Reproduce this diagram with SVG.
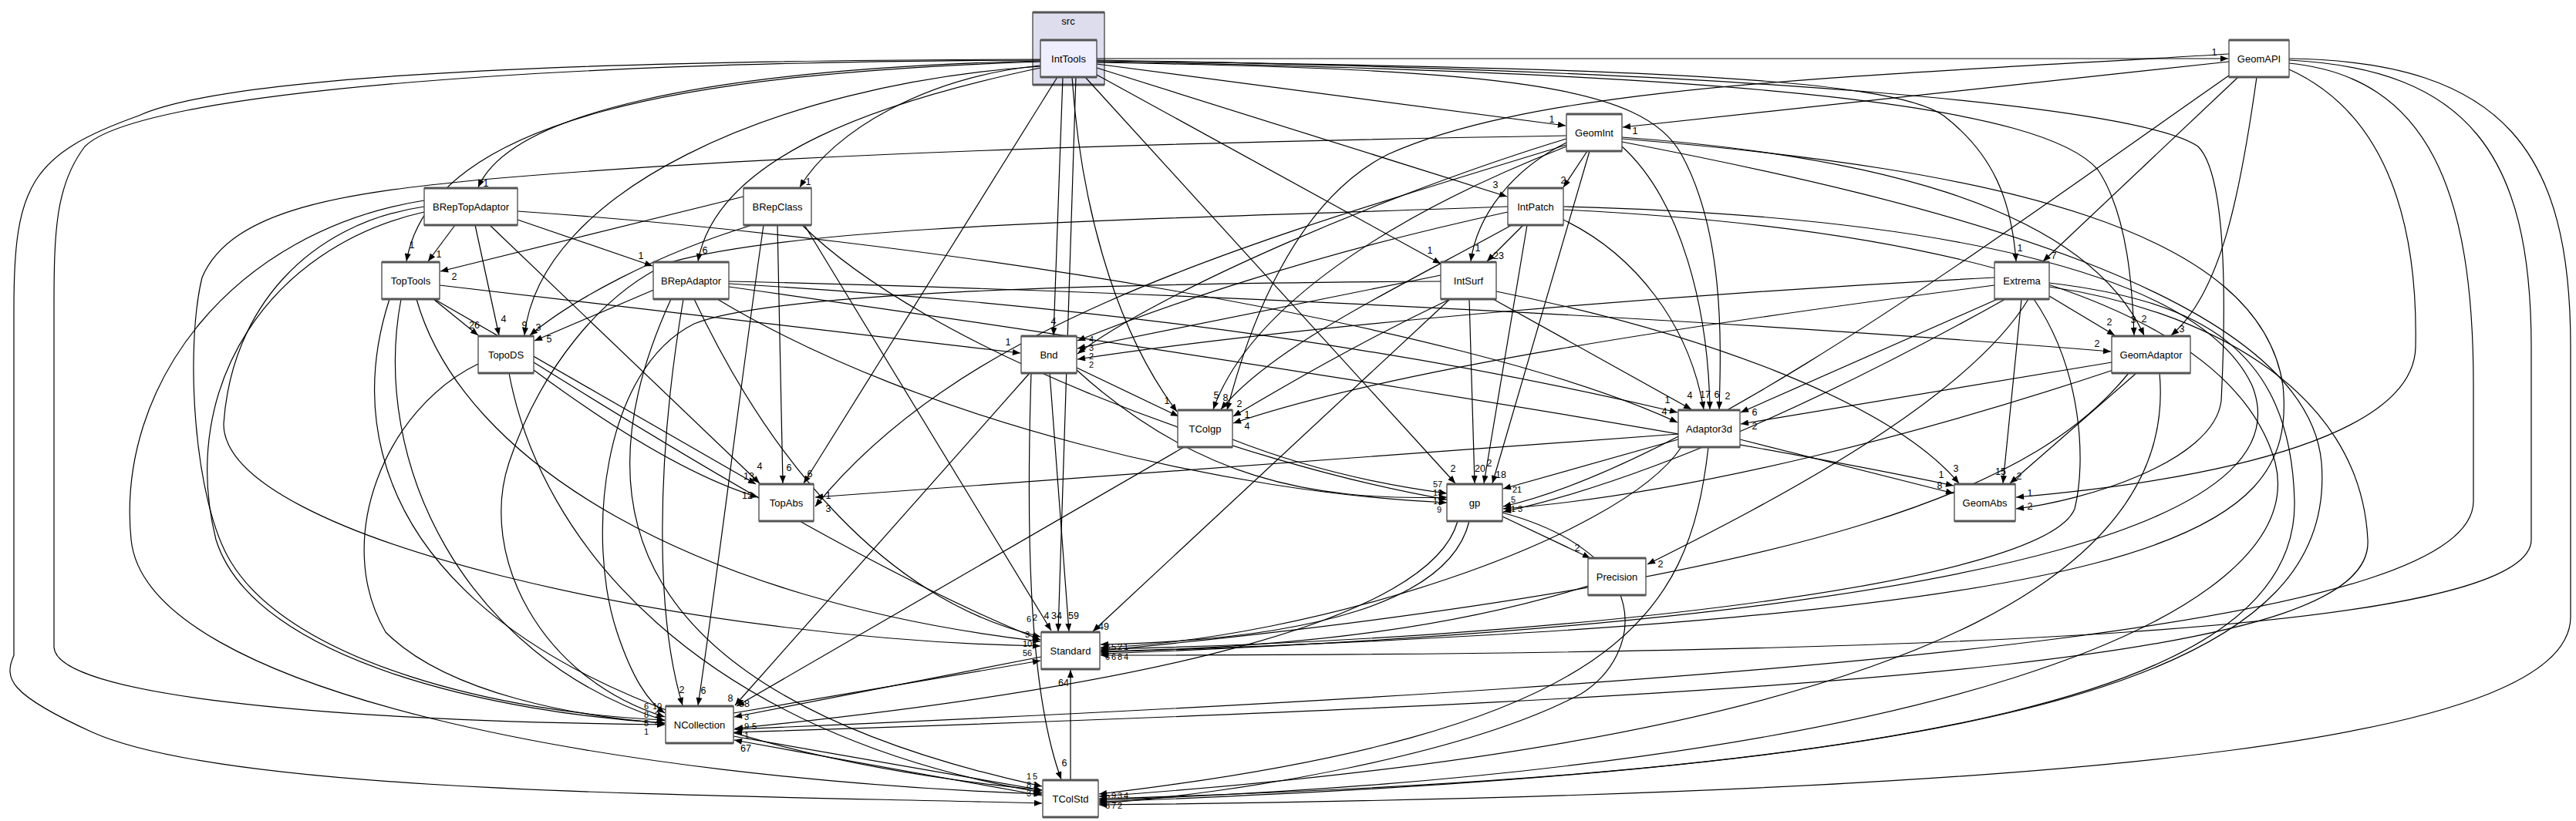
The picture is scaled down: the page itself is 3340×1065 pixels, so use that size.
<svg xmlns="http://www.w3.org/2000/svg" width="3340" height="1065" viewBox="0 0 3340 1065">
<style>
.bg{fill:#ffffff}
.n rect{fill:#ffffff;stroke:#444;stroke-width:1.3}
.n path{stroke:#555;stroke-width:3;fill:none}
.n text{font-family:"Liberation Sans",Arial,sans-serif;font-size:13px;fill:#000;text-anchor:middle}
.e path{fill:none;stroke:#000;stroke-width:1.2;marker-end:url(#a)}
.l text{font-family:"Liberation Sans",Arial,sans-serif;font-size:12.5px;fill:#000;text-anchor:middle}
.l text.s{font-size:11px}
</style>
<defs>
<marker id="a" viewBox="0 0 10 8" refX="10" refY="4" markerWidth="11" markerHeight="8" markerUnits="userSpaceOnUse" orient="auto"><path d="M0,0 L10,4 L0,8z" fill="#000"/></marker>
</defs>
<rect class="bg" x="0" y="0" width="3340" height="1065"/>
<g id="cluster-src">
<rect x="1339" y="16" width="93" height="94" fill="#ddddee" stroke="#444" stroke-width="1.3"/>
<path d="M1339,16 H1432 M1339,110 H1432" stroke="#555" stroke-width="3"/>
<text x="1385" y="32" font-family="Liberation Sans,Arial,sans-serif" font-size="13" text-anchor="middle">src</text>
</g>
<g id="edges">
<g class="e">
<path d="M1422,76 L2889,76"/>
<path d="M1422,83 L2030,163"/>
<path d="M1422,88 L1954,255"/>
<path d="M1422,97 L1868,342"/>
<path d="M1422,79 C2100,88 2450,100 2520,150 C2585,200 2608,260 2614,339"/>
<path d="M1422,81 C1950,90 2130,110 2180,200 C2235,300 2232,440 2229,531"/>
<path d="M1422,80 C2300,95 2650,140 2720,220 C2760,280 2765,380 2767,435"/>
<path d="M1422,78 C2300,92 2780,140 2850,190 C2890,230 2885,420 2880,520 C2870,600 2700,650 2614,660"/>
<path d="M1407,100 L1887,627"/>
<path d="M1390,100 C1400,250 1440,420 1526,534"/>
<path d="M1378,100 L1366,435"/>
<path d="M1371,100 L1042,627"/>
<path d="M1349,85 C1200,100 1080,170 1037,243"/>
<path d="M1349,88 C1150,130 930,200 905,339"/>
<path d="M1349,86 C1000,110 700,250 680,435"/>
<path d="M1349,80 C900,95 560,150 527,339"/>
<path d="M1349,79 C900,90 660,150 620,243"/>
<path d="M1349,78 C700,80 180,120 110,190 C72,240 70,300 70,400 L70,840 C75,900 400,935 862,940"/>
<path d="M1349,77 C800,78 300,95 180,150 C40,200 18,240 18,400 L18,850 C5,880 10,900 120,950 C300,1030 900,1030 1351,1042"/>
<path d="M1395,100 L1372,819"/>
<path d="M2890,80 L2104,165"/>
<path d="M2902,100 L2649,339"/>
<path d="M2926,100 C2905,250 2880,380 2815,435"/>
<path d="M2890,98 C2600,300 2200,600 1949,657"/>
<path d="M2968,90 C3100,150 3135,300 3132,450 C3130,560 2900,620 2614,645"/>
<path d="M2968,82 C3150,100 3207,250 3207,500 L3207,650 C3207,800 2500,880 952,946"/>
<path d="M2968,78 C3200,90 3282,200 3282,450 L3282,700 C3282,820 2500,850 1427,850"/>
<path d="M2968,76 C3250,80 3333,200 3333,450 L3333,800 C3333,950 2800,1030 1425,1044"/>
<path d="M2890,70 C2400,100 2000,110 1800,200 C1680,260 1620,420 1591,532"/>
<path d="M2058,196 L2027,243"/>
<path d="M2031,185 C1960,220 1915,280 1907,339"/>
<path d="M2103,190 C2180,260 2215,400 2217,531"/>
<path d="M2103,178 C2400,200 2700,260 2780,435"/>
<path d="M2061,196 L1935,627"/>
<path d="M2031,190 C1800,280 1620,400 1573,531"/>
<path d="M2031,180 C1800,250 1500,380 1397,459"/>
<path d="M2031,188 C1600,320 1250,420 1057,657"/>
<path d="M2031,176 C1500,185 1000,200 625,233 C450,250 300,270 262,360 C240,450 250,650 300,730 C380,860 650,925 862,934"/>
<path d="M2103,180 C2600,220 2930,300 2960,500 C2980,700 2800,800 1427,846"/>
<path d="M2103,184 C2500,260 2990,380 3010,600 C3030,850 2700,1000 1425,1036"/>
<path d="M1975,292 L1928,339"/>
<path d="M2027,285 C2120,330 2190,420 2209,531"/>
<path d="M1955,275 C1700,330 1500,400 1397,442"/>
<path d="M1960,292 C1800,380 1650,450 1583,531"/>
<path d="M1980,292 L1924,627"/>
<path d="M1955,268 C1500,285 1050,290 870,340 C780,380 700,480 660,600 C620,720 700,880 862,930"/>
<path d="M2027,268 C2500,280 2850,350 2920,500 C2980,650 2700,800 1427,848"/>
<path d="M2027,272 C2600,300 2900,420 2950,600 C3000,800 2500,1000 1425,1038"/>
<path d="M1936,388 L2193,531"/>
<path d="M1868,357 L1397,452"/>
<path d="M1880,388 C1750,450 1650,510 1599,540"/>
<path d="M1905,388 L1912,627"/>
<path d="M1880,388 L1417,819"/>
<path d="M1940,378 C2200,430 2450,520 2540,627"/>
<path d="M1868,365 C1400,368 1000,380 900,420 C780,480 760,700 800,820 C820,880 840,910 862,925"/>
<path d="M2657,384 L2742,435"/>
<path d="M2590,388 L2257,535"/>
<path d="M2586,360 C2200,380 1700,420 1397,466"/>
<path d="M2586,370 C2200,420 1800,480 1599,549"/>
<path d="M2600,388 C2400,500 2150,620 1949,664"/>
<path d="M2621,388 L2597,627"/>
<path d="M2630,388 C2550,520 2300,650 2136,732"/>
<path d="M2637,388 C2700,480 2705,600 2690,660 C2650,760 2000,830 1427,842"/>
<path d="M2657,367 C2850,390 2970,450 2975,650 C2980,900 2500,1000 1425,1040"/>
<path d="M2657,372 C2850,400 3060,500 3070,700 C3080,850 2500,900 952,950"/>
<path d="M2738,470 L2257,550"/>
<path d="M2770,484 L2606,627"/>
<path d="M2740,480 C2500,560 2200,640 1949,660"/>
<path d="M2760,484 C2650,620 2400,750 1427,844"/>
<path d="M2800,484 C2820,700 2600,950 1425,1033"/>
<path d="M590,292 L555,339"/>
<path d="M671,285 L846,345"/>
<path d="M616,292 L647,435"/>
<path d="M635,292 L985,627"/>
<path d="M671,274 C1200,310 1900,420 2175,548"/>
<path d="M550,268 C400,290 300,400 290,550 C290,700 900,830 1349,838"/>
<path d="M550,275 C350,320 230,500 280,700 C330,860 650,925 862,938"/>
<path d="M550,260 C300,300 150,500 170,700 C190,900 800,1010 1351,1030"/>
<path d="M562,388 L620,435"/>
<path d="M570,370 C900,410 1150,440 1323,458"/>
<path d="M563,388 L980,628"/>
<path d="M540,388 C600,600 900,780 1349,832"/>
<path d="M520,388 C480,600 600,850 862,935"/>
<path d="M505,388 C420,650 600,950 1351,1025"/>
<path d="M964,255 L571,352"/>
<path d="M975,292 C850,330 740,390 687,435"/>
<path d="M1008,292 L1015,627"/>
<path d="M1040,292 C1200,450 1600,600 1876,648"/>
<path d="M1043,292 L1363,818"/>
<path d="M990,292 C960,500 930,750 905,915"/>
<path d="M850,375 L693,442"/>
<path d="M945,368 C1500,400 1900,470 2175,535"/>
<path d="M945,365 C1600,380 2300,420 2737,456"/>
<path d="M945,372 C1500,450 2200,560 2533,630"/>
<path d="M930,388 C1200,550 1600,640 1876,652"/>
<path d="M886,388 C850,600 850,800 885,915"/>
<path d="M900,388 C1000,600 1150,780 1349,826"/>
<path d="M870,388 C750,650 800,900 1351,1020"/>
<path d="M692,480 C800,560 900,620 983,645"/>
<path d="M692,470 C900,600 1150,750 1349,830"/>
<path d="M620,472 C500,530 430,700 500,820 C580,900 750,930 862,938"/>
<path d="M660,484 C700,700 900,950 1351,1028"/>
<path d="M1396,477 L1528,540"/>
<path d="M1396,480 C1550,620 1700,650 1876,645"/>
<path d="M1335,484 L953,915"/>
<path d="M1361,484 L1386,819"/>
<path d="M1337,484 C1330,700 1335,900 1376,1011"/>
<path d="M1598,570 C1700,610 1800,630 1876,640"/>
<path d="M1535,580 L955,916"/>
<path d="M2176,570 L1949,634"/>
<path d="M2176,563 L1057,645"/>
<path d="M2256,570 L2533,640"/>
<path d="M2180,580 C2100,700 1700,830 1427,840"/>
<path d="M2215,580 C2190,800 2100,950 1425,1030"/>
<path d="M1948,670 L2062,724"/>
<path d="M1905,676 C1880,780 1700,830 1427,836"/>
<path d="M1890,676 C1850,820 1400,900 953,945"/>
<path d="M1948,665 C2150,720 2130,850 2050,900 C1900,980 1600,1030 1425,1042"/>
<path d="M2059,760 C1900,810 1700,840 1427,845"/>
<path d="M1350,852 L952,930"/>
<path d="M951,925 L1349,857"/>
<path d="M951,955 L1351,1025"/>
<path d="M1388,1012 L1388,869"/>
<path d="M1351,1032 L952,960"/>
</g>
<g class="l">
<text x="2871" y="72">1</text>
<text x="2012" y="159">1</text>
<text x="1939" y="244">3</text>
<text x="1854" y="329">1</text>
<text x="2619" y="326">1</text>
<text x="2240" y="518">2</text>
<text x="2766" y="419">3</text>
<text x="2632" y="661">2</text>
<text x="1884" y="612">2</text>
<text x="1513" y="524">1</text>
<text x="1366" y="421">4</text>
<text x="1050" y="619">6</text>
<text x="1048" y="240">1</text>
<text x="914" y="329">6</text>
<text x="680" y="426">9</text>
<text x="534" y="322">1</text>
<text x="630" y="242">1</text>
<text x="1370" y="803">34</text>
<text x="2120" y="174">1</text>
<text x="2663" y="336">7</text>
<text x="2829" y="431">3</text>
<text x="2632" y="644">1</text>
<text x="1607" y="528">2</text>
<text x="2027" y="238">2</text>
<text x="1916" y="326">1</text>
<text x="2226" y="516">6</text>
<text x="2780" y="418">2</text>
<text x="1946" y="620">18</text>
<text x="1577" y="517">5</text>
<text x="1074" y="664">3</text>
<text x="1943" y="336">23</text>
<text x="2211" y="516">17</text>
<text x="1589" y="520">8</text>
<text x="1931" y="605">2</text>
<text x="2191" y="517">4</text>
<text x="1617" y="542">1</text>
<text x="1919" y="612">20</text>
<text x="1431" y="817">49</text>
<text x="2536" y="612">3</text>
<text x="2735" y="422">2</text>
<text x="2275" y="539">6</text>
<text x="1617" y="557">4</text>
<text x="2594" y="616">15</text>
<text x="2153" y="736">2</text>
<text x="2275" y="557">2</text>
<text x="2618" y="622">2</text>
<text x="569" y="334">1</text>
<text x="831" y="336">1</text>
<text x="653" y="418">4</text>
<text x="985" y="609">4</text>
<text x="2162" y="523">1</text>
<text x="2158" y="538">4</text>
<text x="615" y="426">26</text>
<text x="1307" y="448">1</text>
<text x="971" y="622">13</text>
<text x="589" y="363">2</text>
<text x="698" y="429">3</text>
<text x="1023" y="611">6</text>
<text x="1357" y="803">4</text>
<text x="912" y="900">6</text>
<text x="712" y="444">5</text>
<text x="2719" y="450">2</text>
<text x="2517" y="620">1</text>
<text x="2515" y="634">8</text>
<text x="884" y="899">2</text>
<text x="969" y="647">12</text>
<text x="1392" y="803">59</text>
<text x="1380" y="994">6</text>
<text x="947" y="910">8</text>
<text x="965" y="917">58</text>
<text x="1074" y="647">1</text>
<text x="2045" y="715">2</text>
<text x="1379" y="890">64</text>
<text x="967" y="975">67</text>
<text class="s" x="1415" y="444">4</text>
<text class="s" x="1415" y="455">3</text>
<text class="s" x="1415" y="466">2</text>
<text class="s" x="1415" y="477">2</text>
<text class="s" x="1864" y="632">57</text>
<text class="s" x="1864" y="643">19</text>
<text class="s" x="1864" y="654">12</text>
<text class="s" x="1866" y="665">9</text>
<text class="s" x="1967" y="639">21</text>
<text class="s" x="1962" y="652">5</text>
<text class="s" x="1962" y="664">1</text>
<text class="s" x="1971" y="664">3</text>
<text class="s" x="1334" y="807">6</text>
<text class="s" x="1342" y="805">2</text>
<text class="s" x="1332" y="827">3</text>
<text class="s" x="1332" y="839">10</text>
<text class="s" x="1332" y="851">56</text>
<text class="s" x="1436" y="843">3</text>
<text class="s" x="1444" y="843">5</text>
<text class="s" x="1452" y="843">2</text>
<text class="s" x="1460" y="843">1</text>
<text class="s" x="1436" y="856">6</text>
<text class="s" x="1444" y="856">6</text>
<text class="s" x="1452" y="856">8</text>
<text class="s" x="1460" y="856">4</text>
<text class="s" x="1436" y="1036">5</text>
<text class="s" x="1444" y="1036">9</text>
<text class="s" x="1452" y="1036">3</text>
<text class="s" x="1460" y="1036">4</text>
<text class="s" x="1436" y="1049">6</text>
<text class="s" x="1444" y="1049">7</text>
<text class="s" x="1452" y="1049">2</text>
<text class="s" x="1334" y="1011">1</text>
<text class="s" x="1342" y="1011">5</text>
<text class="s" x="1334" y="1022">8</text>
<text class="s" x="1342" y="1022">1</text>
<text class="s" x="1334" y="1033">3</text>
<text class="s" x="1342" y="1033">5</text>
<text class="s" x="838" y="920">6</text>
<text class="s" x="852" y="920">10</text>
<text class="s" x="838" y="931">8</text>
<text class="s" x="852" y="931">2</text>
<text class="s" x="838" y="942">5</text>
<text class="s" x="852" y="942">4</text>
<text class="s" x="838" y="953">1</text>
<text class="s" x="968" y="934">3</text>
<text class="s" x="968" y="946">9</text>
<text class="s" x="978" y="946">5</text>
<text class="s" x="968" y="958">1</text>
</g>
</g>
<g id="node-IntTools" class="n"><rect x="1349" y="52" width="73" height="48" style="fill:#eeeeff"/><path d="M1349,52 H1422 M1349,100 H1422"/><text x="1385.5" y="81">IntTools</text></g>
<g id="node-GeomAPI" class="n"><rect x="2890" y="52" width="78" height="48"/><path d="M2890,52 H2968 M2890,100 H2968"/><text x="2929" y="81">GeomAPI</text></g>
<g id="node-GeomInt" class="n"><rect x="2031" y="148" width="72" height="48"/><path d="M2031,148 H2103 M2031,196 H2103"/><text x="2067" y="177">GeomInt</text></g>
<g id="node-BRepTopAdaptor" class="n"><rect x="550" y="244" width="121" height="48"/><path d="M550,244 H671 M550,292 H671"/><text x="610.5" y="273">BRepTopAdaptor</text></g>
<g id="node-BRepClass" class="n"><rect x="964" y="244" width="88" height="48"/><path d="M964,244 H1052 M964,292 H1052"/><text x="1008" y="273">BRepClass</text></g>
<g id="node-IntPatch" class="n"><rect x="1955" y="244" width="72" height="48"/><path d="M1955,244 H2027 M1955,292 H2027"/><text x="1991" y="273">IntPatch</text></g>
<g id="node-TopTools" class="n"><rect x="495" y="340" width="75" height="48"/><path d="M495,340 H570 M495,388 H570"/><text x="532.5" y="369">TopTools</text></g>
<g id="node-BRepAdaptor" class="n"><rect x="847" y="340" width="98" height="48"/><path d="M847,340 H945 M847,388 H945"/><text x="896" y="369">BRepAdaptor</text></g>
<g id="node-IntSurf" class="n"><rect x="1868" y="340" width="72" height="48"/><path d="M1868,340 H1940 M1868,388 H1940"/><text x="1904" y="369">IntSurf</text></g>
<g id="node-Extrema" class="n"><rect x="2586" y="340" width="71" height="48"/><path d="M2586,340 H2657 M2586,388 H2657"/><text x="2621.5" y="369">Extrema</text></g>
<g id="node-TopoDS" class="n"><rect x="620" y="436" width="72" height="48"/><path d="M620,436 H692 M620,484 H692"/><text x="656" y="465">TopoDS</text></g>
<g id="node-Bnd" class="n"><rect x="1324" y="436" width="72" height="48"/><path d="M1324,436 H1396 M1324,484 H1396"/><text x="1360" y="465">Bnd</text></g>
<g id="node-GeomAdaptor" class="n"><rect x="2738" y="436" width="102" height="48"/><path d="M2738,436 H2840 M2738,484 H2840"/><text x="2789" y="465">GeomAdaptor</text></g>
<g id="node-TColgp" class="n"><rect x="1527" y="532" width="71" height="48"/><path d="M1527,532 H1598 M1527,580 H1598"/><text x="1562.5" y="561">TColgp</text></g>
<g id="node-Adaptor3d" class="n"><rect x="2176" y="532" width="80" height="48"/><path d="M2176,532 H2256 M2176,580 H2256"/><text x="2216" y="561">Adaptor3d</text></g>
<g id="node-TopAbs" class="n"><rect x="984" y="628" width="71" height="48"/><path d="M984,628 H1055 M984,676 H1055"/><text x="1019.5" y="657">TopAbs</text></g>
<g id="node-gp" class="n"><rect x="1876" y="628" width="72" height="48"/><path d="M1876,628 H1948 M1876,676 H1948"/><text x="1912" y="657">gp</text></g>
<g id="node-GeomAbs" class="n"><rect x="2534" y="628" width="79" height="48"/><path d="M2534,628 H2613 M2534,676 H2613"/><text x="2573.5" y="657">GeomAbs</text></g>
<g id="node-Precision" class="n"><rect x="2059" y="724" width="75" height="48"/><path d="M2059,724 H2134 M2059,772 H2134"/><text x="2096.5" y="753">Precision</text></g>
<g id="node-Standard" class="n"><rect x="1350" y="820" width="76" height="48"/><path d="M1350,820 H1426 M1350,868 H1426"/><text x="1388" y="849">Standard</text></g>
<g id="node-NCollection" class="n"><rect x="863" y="916" width="88" height="48"/><path d="M863,916 H951 M863,964 H951"/><text x="907" y="945">NCollection</text></g>
<g id="node-TColStd" class="n"><rect x="1352" y="1012" width="72" height="48"/><path d="M1352,1012 H1424 M1352,1060 H1424"/><text x="1388" y="1041">TColStd</text></g>
</svg>
